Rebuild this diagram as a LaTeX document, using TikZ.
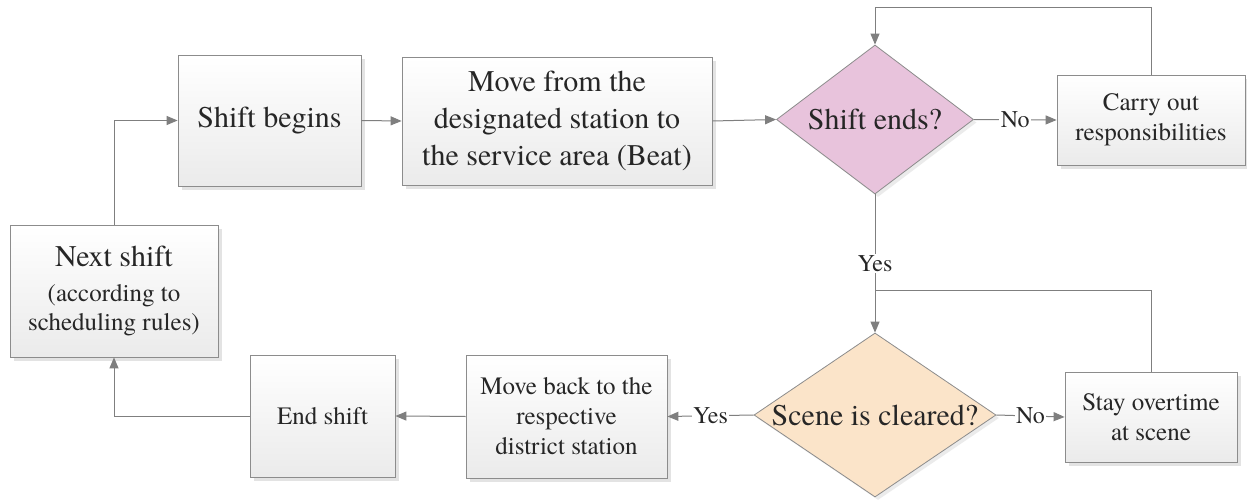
\documentclass[tikz,border=0pt]{standalone}
\usepackage{fontspec}
\setmainfont{TeX Gyre Termes}
\usetikzlibrary{shapes.geometric,arrows.meta,shadows}

\definecolor{linegray}{HTML}{7F7F7F}
\definecolor{boxedge}{HTML}{8C8C8C}
\definecolor{inkgray}{HTML}{262626}
\definecolor{pinkfill}{HTML}{E8C3DC}
\definecolor{peachfill}{HTML}{FBE4C9}

\tikzset{
  procbox/.style={draw=boxedge, line width=0.8pt, top color=white, bottom color=black!8,
    drop shadow={shadow xshift=4pt, shadow yshift=-4pt, fill=black!18, opacity=0.6},
    align=center, text=inkgray, inner sep=2pt},
  decision/.style={diamond, draw=boxedge, line width=0.8pt, inner sep=0pt,
    drop shadow={shadow xshift=3pt, shadow yshift=-3pt, fill=black!15, opacity=0.5},
    align=center, text=inkgray},
  bigtxt/.style={font=\rmfamily\fontsize{30}{37}\selectfont},
  smalltxt/.style={font=\rmfamily\fontsize{25}{30}\selectfont},
  arr/.style={draw=linegray, line width=1pt, -{Triangle[length=11pt,width=9pt]}},
  plain/.style={draw=linegray, line width=1pt},
  lbl/.style={fill=white, inner sep=1.5pt, text=inkgray, font=\rmfamily\fontsize{24}{28}\selectfont}
}

\begin{document}
\begin{tikzpicture}[x=1pt, y=-1pt]
  \useasboundingbox (0,0) rectangle (1247,500);
  \fill[white] (0,0) rectangle (1247,500);

  % top row
  \node[procbox, bigtxt, minimum width=183pt, minimum height=131pt] (begin) at (269.5,120.5) {Shift begins};
  \node[procbox, bigtxt, minimum width=310pt, minimum height=128pt] (move) at (557,121)
    {Move from the\\designated station to\\the service area (Beat)};
  \node[decision, bigtxt, fill=pinkfill, minimum width=197pt, minimum height=149pt] (ends) at (875,119.5)
    {\makebox[0pt]{Shift ends?}};
  \node[procbox, smalltxt, minimum width=188pt, minimum height=90pt] (carry) at (1151,120)
    {Carry out\\responsibilities};

  % left column
  \node[procbox, font=\rmfamily\fontsize{25}{29}\selectfont, minimum width=208pt, minimum height=132pt] (next) at (114,291)
    {{\fontsize{30}{37}\selectfont Next shift}\\[6pt](according to\\scheduling rules)};

  % bottom row
  \node[procbox, smalltxt, minimum width=145pt, minimum height=122pt] (endsh) at (322.5,416) {End shift};
  \node[procbox, smalltxt, minimum width=201pt, minimum height=123pt] (back) at (566.5,416.5)
    {Move back to the\\respective\\district station};
  \node[decision, font=\rmfamily\fontsize{30}{36}\selectfont, fill=peachfill, minimum width=242pt, minimum height=164pt] (scene) at (875,415)
    {\makebox[0pt]{Scene is cleared?}};
  \node[procbox, smalltxt, minimum width=172pt, minimum height=90pt] (stay) at (1151,417)
    {Stay overtime\\at scene};

  % loop-back corners
  \coordinate (toploop) at (875,8);
  \coordinate (midloop) at (875,290);

  % connectors
  \draw[arr] (next.north) |- (begin.west);
  \draw[arr] (begin.east) -- (move.west);
  \draw[arr] (move.east) -- (ends.west);
  \draw[arr] (ends.east) -- node[lbl] {No} (carry.west);
  \draw[arr] (carry.north) |- (toploop) -- (ends.north);
  \draw[arr] (ends.south) -- node[lbl, pos=0.5] {Yes} (scene.north);
  \draw[plain] (stay.north) |- (midloop);
  \draw[arr] (scene.east) -- node[lbl] {No} (stay.west);
  \draw[arr] (scene.west) -- node[lbl] {Yes} (back.east);
  \draw[arr] (back.west) -- (endsh.east);
  \draw[arr] (endsh.west) -| (next.south);
\end{tikzpicture}
\end{document}
